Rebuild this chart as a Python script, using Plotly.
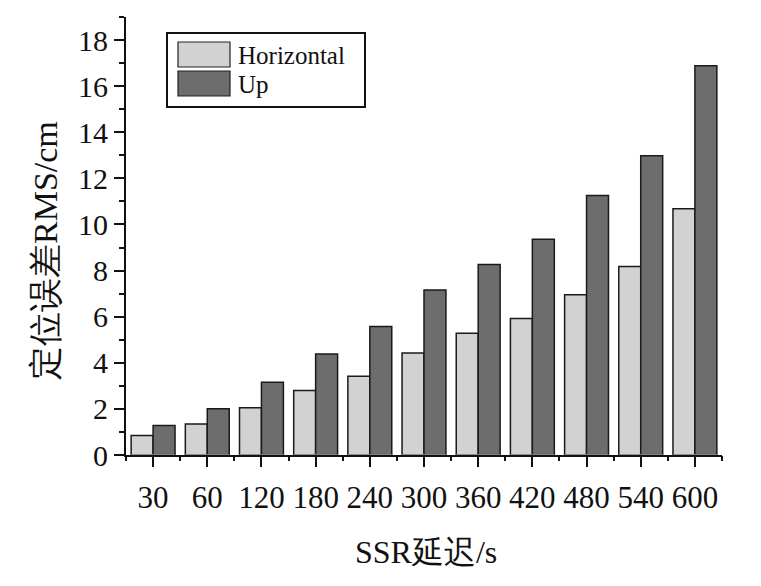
import plotly.graph_objects as go

# SSR delay categories and RMS values (cm)
delays = ["30", "60", "120", "180", "240", "300", "360", "420", "480", "540", "600"]
horizontal = [0.85, 1.35, 2.05, 2.8, 3.42, 4.43, 5.28, 5.92, 6.95, 8.18, 10.68]
up = [1.28, 2.01, 3.16, 4.38, 5.57, 7.16, 8.26, 9.36, 11.26, 12.98, 16.88]

series_names = ["Horizontal", "Up"]
series_colors = ["#d2d2d2", "#6d6d6d"]

FONT = "Liberation Serif, Times New Roman, serif"

# plot area in page pixels (page body has an 8px margin)
PL, PR, PT, PB = 126, 722, 17, 455
PW, PH = PR - PL, PB - PT


def px(x):
    return (x - PL) / PW


def py(y):
    return (PB - y) / PH


fig = go.Figure()
for name, vals, col in zip(series_names, [horizontal, up], series_colors):
    fig.add_trace(go.Bar(
        x=delays, y=vals, name=name,
        marker=dict(color=col, line=dict(color="#1a1a1a", width=1.5)),
        showlegend=False,
    ))

# invisible trace so the boundary-tick axis renders
fig.add_trace(go.Bar(x=delays, y=[0] * len(delays), xaxis="x2",
                     marker=dict(color="rgba(0,0,0,0)"), showlegend=False,
                     hoverinfo="skip"))

fig.update_layout(
    width=753, height=578,
    margin=dict(l=PL - 8, r=761 - PR, t=PT - 8, b=586 - PB),
    paper_bgcolor="white", plot_bgcolor="white",
    barmode="group", bargap=0.19, bargroupgap=0,
    font=dict(family=FONT, color="#111111"),
    xaxis=dict(
        type="category",
        showline=True, linecolor="#111111", linewidth=2,
        ticks="outside", ticklen=10, tickwidth=2, tickcolor="#111111",
        tickfont=dict(size=31), ticklabelstandoff=4,
        showgrid=False, zeroline=False,
    ),
    xaxis2=dict(
        matches="x", overlaying="x", type="category",
        tickson="boundaries", ticks="outside", ticklen=5, tickwidth=1.5,
        tickcolor="#111111", showticklabels=False, showgrid=False,
        showline=False, zeroline=False,
    ),
    yaxis=dict(
        range=[0, 19], dtick=2,
        showline=True, linecolor="#111111", linewidth=2,
        ticks="outside", ticklen=10, tickwidth=2, tickcolor="#111111",
        minor=dict(dtick=1, ticks="outside", ticklen=5, tickwidth=1.5, tickcolor="#111111"),
        tickfont=dict(size=30), ticklabelstandoff=0,
        showgrid=False, zeroline=False,
    ),
)

# axis titles
fig.add_annotation(xref="paper", yref="paper", x=px(426), y=py(552),
                   text="SSR延迟/s", showarrow=False,
                   xanchor="center", yanchor="middle",
                   font=dict(size=32, family=FONT, color="#111111"))
fig.add_annotation(xref="paper", yref="paper", x=px(45), y=py(251),
                   text="定位误差RMS/cm", showarrow=False, textangle=-90,
                   xanchor="center", yanchor="middle",
                   font=dict(size=34, family=FONT, color="#111111"))

# hand-drawn legend box with big swatches
fig.add_shape(type="rect", xref="paper", yref="paper",
              x0=px(167), x1=px(365), y0=py(107), y1=py(33),
              line=dict(color="#111111", width=2), fillcolor="white")
for i, (name, col) in enumerate(zip(series_names, series_colors)):
    top = 42 + i * 29
    fig.add_shape(type="rect", xref="paper", yref="paper",
                  x0=px(178), x1=px(230), y0=py(top + 25), y1=py(top),
                  line=dict(color="#222222", width=1.2), fillcolor=col)
    fig.add_annotation(xref="paper", yref="paper",
                       x=px(236), y=py(top + 13),
                       text=name, showarrow=False, xanchor="left", yanchor="middle",
                       font=dict(size=25, family=FONT, color="#111111"))

fig.write_html("out.html")
